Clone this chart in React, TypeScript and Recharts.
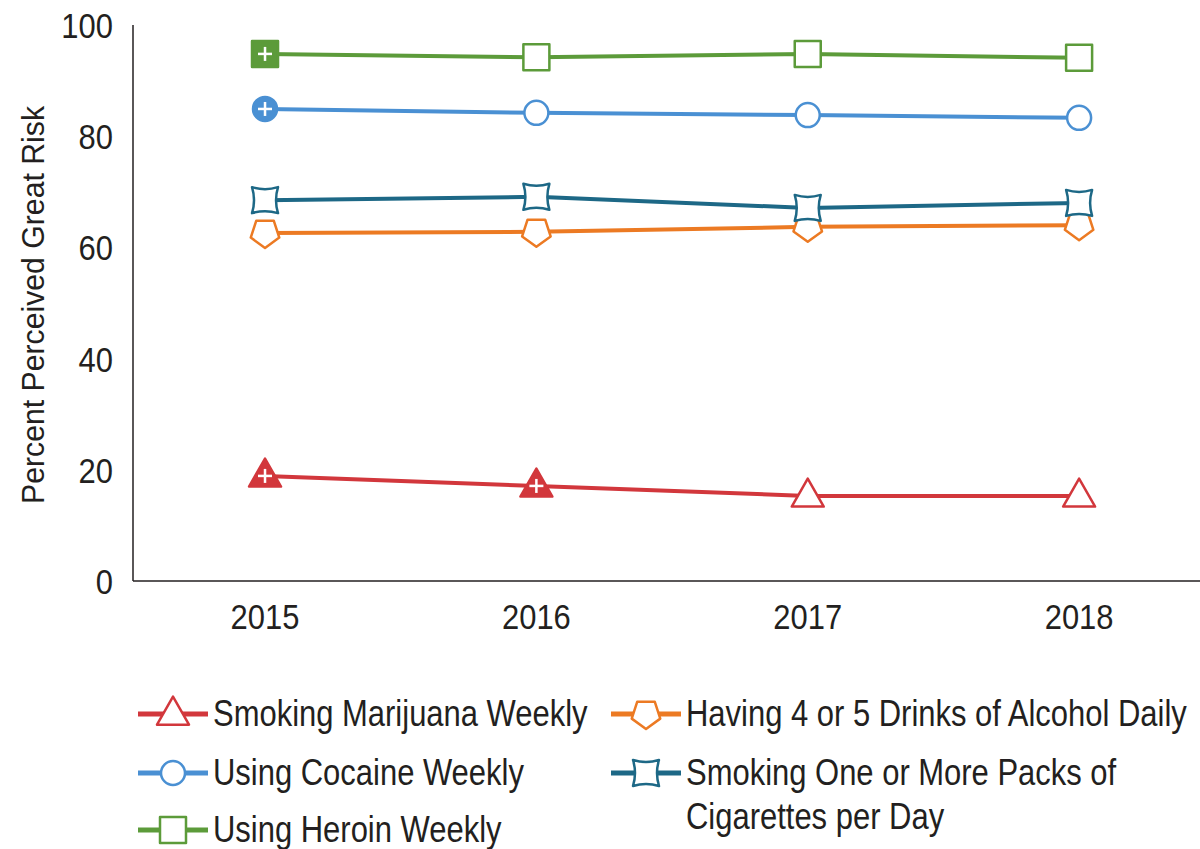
import React from 'react';
import { LineChart, Line, XAxis, YAxis } from 'recharts';

const years = [2015, 2016, 2017, 2018];
const marijuana = [18.9, 17.1, 15.3, 15.3];
const alcohol = [62.6, 62.8, 63.7, 64.0];
const cocaine = [84.9, 84.2, 83.8, 83.3];
const cigarettes = [68.5, 69.1, 67.1, 68.0];
const heroin = [94.8, 94.2, 94.8, 94.1];

// filled marker with a white cross = significantly different from 2018
const marijuanaSig = [true, true, false, false];
const cocaineSig = [true, false, false, false];
const heroinSig = [true, false, false, false];
const noSig = [false, false, false, false];

const yTicks = [0, 20, 40, 60, 80, 100];

const FONT = '"Liberation Sans", Arial, sans-serif';
const INK = '#231f20';
const SQUEEZE = 0.86; // fake a condensed face

const C = {
    marijuana: '#d2373c',
    alcohol: '#ec7a23',
    cocaine: '#4a90d3',
    cigarettes: '#1d6886',
    heroin: '#5c9b3a',
};

const data = years.map((y, i) => ({
    year: y,
    marijuana: marijuana[i],
    alcohol: alcohol[i],
    cocaine: cocaine[i],
    cigarettes: cigarettes[i],
    heroin: heroin[i],
}));

type Shape = 'triangle' | 'pentagon' | 'circle' | 'square' | 'star4';

const shapePath = (shape: Shape, cx: number, cy: number): string => {
    switch (shape) {
        case 'triangle': {
            const h = 28, w = 32;
            return `M${cx},${cy - h * 0.62} L${cx + w / 2},${cy + h * 0.38} L${cx - w / 2},${cy + h * 0.38} Z`;
        }
        case 'pentagon': {
            const r = 15;
            const pts = [0, 1, 2, 3, 4].map(k => {
                const a = Math.PI / 2 + (k * 2 * Math.PI) / 5;
                return `${cx + r * Math.cos(a)},${cy + r * Math.sin(a)}`;
            });
            return `M${pts.join(' L')} Z`;
        }
        case 'square': {
            const s = 13;
            return `M${cx - s},${cy - s} H${cx + s} V${cy + s} H${cx - s} Z`;
        }
        case 'star4': {
            const s = 13, b = 4;
            return `M${cx - s},${cy - s} Q${cx},${cy - s + b} ${cx + s},${cy - s} Q${cx + s - b},${cy} ${cx + s},${cy + s} Q${cx},${cy + s - b} ${cx - s},${cy + s} Q${cx - s + b},${cy} ${cx - s},${cy - s} Z`;
        }
        default:
            return '';
    }
};

const Marker = ({ cx, cy, shape, color, filled }: { cx: number; cy: number; shape: Shape; color: string; filled: boolean }) => {
    const fill = filled ? color : '#ffffff';
    return (
        <g>
            {shape === 'circle' ? (
                <circle cx={cx} cy={cy} r={12} fill={fill} stroke={color} strokeWidth={2.5} />
            ) : (
                <path d={shapePath(shape, cx, cy)} fill={fill} stroke={color} strokeWidth={2.5} strokeLinejoin="round" />
            )}
            {filled && (
                <g stroke="#ffffff" strokeWidth={2.5}>
                    <line x1={cx - 7} y1={cy} x2={cx + 7} y2={cy} />
                    <line x1={cx} y1={cy - 7} x2={cx} y2={cy + 7} />
                </g>
            )}
        </g>
    );
};

const makeDot = (shape: Shape, color: string, sig: boolean[]) => (props: any) => (
    <Marker key={`${shape}-${props.index}`} cx={props.cx} cy={props.cy} shape={shape} color={color} filled={sig[props.index]} />
);

const XTick = ({ x, y, payload }: any) => (
    <text transform={`translate(${x},${y}) scale(${SQUEEZE},1)`} textAnchor="middle" dy="0.71em" fill={INK} fontSize={36} fontFamily={FONT}>
        {payload.value}
    </text>
);

const YTick = ({ x, y, payload }: any) => (
    <text transform={`translate(${x},${y}) scale(${SQUEEZE},1)`} textAnchor="end" dy="0.36em" fill={INK} fontSize={36} fontFamily={FONT}>
        {payload.value}
    </text>
);

const LegendIcon = ({ shape, color }: { shape: Shape; color: string }) => (
    <svg width={70} height={34} style={{ display: 'block', overflow: 'visible' }}>
        <line x1={0} y1={17} x2={70} y2={17} stroke={color} strokeWidth={5} />
        <Marker cx={35} cy={17} shape={shape} color={color} filled={false} />
    </svg>
);

const legendItems = [
    { name: 'Smoking Marijuana Weekly', shape: 'triangle' as Shape, color: C.marijuana, x: 138, y: 697 },
    { name: 'Using Cocaine Weekly', shape: 'circle' as Shape, color: C.cocaine, x: 138, y: 756 },
    { name: 'Using Heroin Weekly', shape: 'square' as Shape, color: C.heroin, x: 138, y: 813 },
    { name: 'Having 4 or 5 Drinks of Alcohol Daily', shape: 'pentagon' as Shape, color: C.alcohol, x: 611, y: 697 },
    { name: 'Smoking One or More Packs of\nCigarettes per Day', shape: 'star4' as Shape, color: C.cigarettes, x: 611, y: 756 },
];

const YLabel = () => (
    <text x={33} y={305} transform="rotate(-90, 33, 305)" textAnchor="middle" dominantBaseline="central" fill={INK} fontSize={31} fontFamily={FONT} textLength={398} lengthAdjust="spacingAndGlyphs">
        Percent Perceived Great Risk
    </text>
);

const App: React.FC = () => {
    return (
        <div style={{ position: 'absolute', left: 0, top: 0, width: 1200, height: 849, background: '#fff', overflow: 'hidden', fontFamily: FONT }}>
            <LineChart width={1200} height={650} data={data} margin={{ top: 25, right: 0, left: 0, bottom: 0 }}>
                <XAxis
                    dataKey="year"
                    type="number"
                    domain={[2014.5135, 2018.4455]}
                    ticks={years}
                    height={69}
                    tickLine={false}
                    tickSize={0}
                    tickMargin={22}
                    axisLine={{ stroke: INK, strokeWidth: 1.5 }}
                    tick={<XTick />}
                />
                <YAxis
                    domain={[0, 100]}
                    ticks={yTicks}
                    width={133}
                    tickLine={false}
                    tickSize={0}
                    tickMargin={20}
                    axisLine={{ stroke: INK, strokeWidth: 1.5 }}
                    tick={<YTick />}
                    label={{ content: () => <YLabel /> }}
                />
                <Line dataKey="marijuana" stroke={C.marijuana} strokeWidth={4} isAnimationActive={false} dot={makeDot('triangle', C.marijuana, marijuanaSig)} />
                <Line dataKey="alcohol" stroke={C.alcohol} strokeWidth={4} isAnimationActive={false} dot={makeDot('pentagon', C.alcohol, noSig)} />
                <Line dataKey="cigarettes" stroke={C.cigarettes} strokeWidth={4} isAnimationActive={false} dot={makeDot('star4', C.cigarettes, noSig)} />
                <Line dataKey="cocaine" stroke={C.cocaine} strokeWidth={4} isAnimationActive={false} dot={makeDot('circle', C.cocaine, cocaineSig)} />
                <Line dataKey="heroin" stroke={C.heroin} strokeWidth={4} isAnimationActive={false} dot={makeDot('square', C.heroin, heroinSig)} />
            </LineChart>
            {legendItems.map(item => (
                <div key={item.name} style={{ position: 'absolute', left: item.x, top: item.y, display: 'flex', alignItems: 'flex-start' }}>
                    <LegendIcon shape={item.shape} color={item.color} />
                    <div
                        style={{
                            marginLeft: 5,
                            fontSize: 36,
                            lineHeight: '44px',
                            color: INK,
                            whiteSpace: 'pre',
                            marginTop: -5,
                            transform: `scaleX(${SQUEEZE})`,
                            transformOrigin: 'left top',
                        }}
                    >
                        {item.name}
                    </div>
                </div>
            ))}
        </div>
    );
};

export default App;
